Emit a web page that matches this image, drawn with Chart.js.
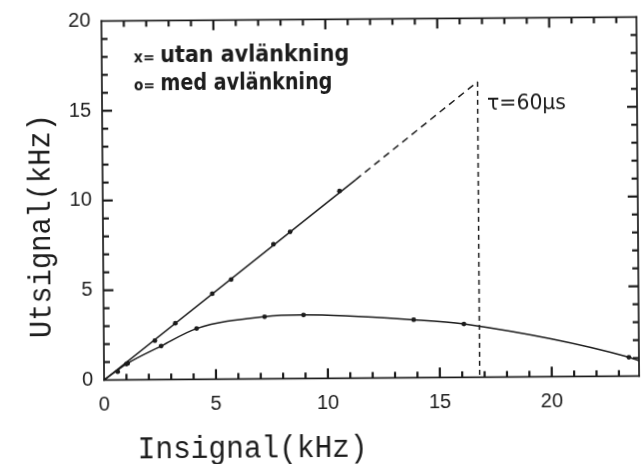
<!DOCTYPE html>
<html>
<head>
<meta charset="utf-8">
<script src="https://cdn.jsdelivr.net/npm/chart.js@4.4.1/dist/chart.umd.min.js"></script>
<style>
  html, body { margin: 0; padding: 0; background: #fff; }
  #wrap { width: 643px; height: 464px; overflow: hidden; }
  #chart { display: block; transform: rotate(-0.43deg); }
</style>
</head>
<body>
<div id="wrap"><canvas id="chart" width="643" height="464"></canvas></div>
<script>
// --- data (kHz) ---
const xLabels = [0, 5, 10, 15, 20];
const yLabels = [0, 5, 10, 15, 20];

// x = utan avlänkning: measured points and the straight fit through them
const utanX = [0.61, 1.06, 2.28, 3.2, 4.86, 5.71, 7.61, 8.36, 10.58];
const utanY = [0.46, 0.92, 2.17, 3.13, 4.76, 5.55, 7.49, 8.18, 10.43];
const utanLinjeX = [0, 11.3];
const utanLinjeY = [0, 11.05];
const utanStreckX = [11.3, 16.78];
const utanStreckY = [11.05, 16.46];

// tau = 60 us limit
const tauX = [16.78, 16.78];
const tauY = [16.46, 0];

// o = med avlänkning: measured points, curve runs on to the frame
const medX = [0, 1.0, 2.56, 4.15, 7.19, 8.93, 13.85, 16.09, 23.45];
const medY = [0, 0.88, 1.87, 2.83, 3.46, 3.54, 3.23, 2.97, 1.05];
const medSlutX = [23.9];
const medSlutY = [0.85];

const INK = '#1c1c1c';

const pts = (xs, ys) => xs.map((v, i) => ({ x: v, y: ys[i] }));

// draws text squeezed/stretched to a given width
const fitText = (ctx, text, x, y, font, width, angle) => {
    ctx.save();
    ctx.font = font;
    const w = ctx.measureText(text).width;
    ctx.translate(x, y);
    if (angle) ctx.rotate(angle);
    ctx.scale(width / w, 1);
    ctx.fillText(text, 0, 0);
    ctx.restore();
};

// frame on all four sides with inward ticks every 1 kHz, plus the texts
const frameTicks = {
    id: 'frameTicks',
    afterDraw(chart) {
        const ctx = chart.ctx;
        const a = chart.chartArea;
        const xs = chart.scales.x, ys = chart.scales.y;
        const lw = 1.7;
        const tw = 2.2;
        ctx.save();
        ctx.fillStyle = INK;
        ctx.fillRect(a.left - lw / 2, a.top - lw / 2, a.right - a.left + lw, lw);
        ctx.fillRect(a.left - lw / 2, a.bottom - lw / 2, a.right - a.left + lw, lw);
        ctx.fillRect(a.left - lw / 2, a.top - lw / 2, lw, a.bottom - a.top + lw);
        ctx.fillRect(a.right - lw / 2, a.top - lw / 2, lw, a.bottom - a.top + lw);
        for (let v = 1; v <= Math.floor(xs.max); v++) {
            const px = xs.getPixelForValue(v);
            const len = v % 5 === 0 ? 10 : 6;
            ctx.fillRect(px - tw / 2, a.bottom - len, tw, len);
            ctx.fillRect(px - tw / 2, a.top, tw, len);
        }
        for (let v = 1; v < Math.floor(ys.max); v++) {
            const py = ys.getPixelForValue(v);
            const len = v % 5 === 0 ? 10 : 6;
            ctx.fillRect(a.left, py - tw / 2, len, tw);
            ctx.fillRect(a.right - len, py - tw / 2, len, tw);
        }

        ctx.textBaseline = 'alphabetic';
        // key
        fitText(ctx, 'x=', 135, 61, 'bold 15px "DejaVu Sans"', 21);
        fitText(ctx, 'utan avlänkning', 161.5, 61, 'bold 23px "DejaVu Sans"', 189);
        fitText(ctx, 'o=', 135, 89, 'bold 15px "DejaVu Sans"', 21);
        fitText(ctx, 'med avlänkning', 161.5, 89, 'bold 23px "DejaVu Sans"', 172);
        // tau label next to the dashed limit
        fitText(ctx, 'τ=60μs', 488, 111, '21px "DejaVu Sans"', 79);
        // axis titles
        fitText(ctx, 'Insignal(kHz)', 136, 457, '31px "Liberation Mono"', 230);
        fitText(ctx, 'Utsignal(kHz)', 50, 336, '31px "Liberation Mono"', 224, -Math.PI / 2);
        ctx.restore();
    }
};

const lineBase = {
    showLine: true,
    borderColor: INK,
    borderWidth: 1.5,
    pointRadius: 0,
    fill: false
};
const markerBase = {
    showLine: false,
    pointRadius: 2.4,
    pointBackgroundColor: INK,
    pointBorderColor: INK,
    pointBorderWidth: 0
};

new Chart(document.getElementById('chart'), {
    type: 'scatter',
    data: {
        datasets: [
            { ...lineBase, data: pts(utanLinjeX, utanLinjeY) },
            { ...lineBase, data: pts(utanStreckX, utanStreckY), borderDash: [7, 5] },
            { ...lineBase, data: pts(tauX, tauY), borderDash: [5, 4] },
            { ...lineBase, data: pts(medX.concat(medSlutX), medY.concat(medSlutY)), cubicInterpolationMode: 'monotone' },
            { ...markerBase, data: pts(utanX, utanY) },
            { ...markerBase, data: pts(medX, medY) }
        ]
    },
    options: {
        responsive: false,
        animation: false,
        devicePixelRatio: 1,
        layout: { padding: { top: 19.4, right: 2.4, left: 0, bottom: 0 } },
        plugins: { legend: { display: false }, tooltip: { enabled: false } },
        scales: {
            x: {
                type: 'linear', min: 0, max: 23.9,
                grid: { display: false }, border: { display: false },
                afterFit: s => { s.height = 85.6; },
                ticks: {
                    stepSize: 1, autoSkip: false, maxRotation: 0, padding: 5,
                    color: INK, font: { family: 'Liberation Sans', size: 20 },
                    callback: v => xLabels.includes(v) ? String(v) : ''
                }
            },
            y: {
                type: 'linear', min: 0, max: 20,
                grid: { display: false }, border: { display: false },
                afterFit: s => { s.width = 103; },
                ticks: {
                    stepSize: 1, autoSkip: false, padding: 3,
                    color: INK, font: { family: 'Liberation Sans', size: 20 },
                    callback: v => yLabels.includes(v) ? String(v) : ''
                }
            }
        }
    },
    plugins: [frameTicks]
});
</script>
</body>
</html>
